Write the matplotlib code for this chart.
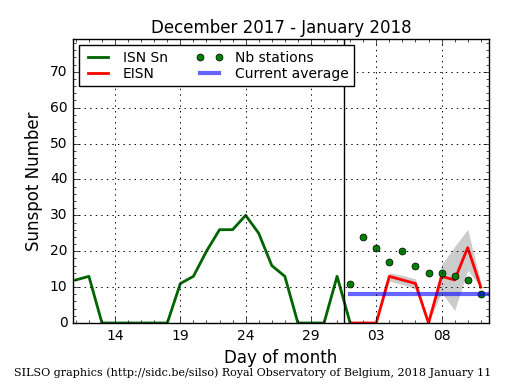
import numpy as np
import matplotlib
matplotlib.use('Agg')
import matplotlib.pyplot as plt
from matplotlib.ticker import MultipleLocator, FixedLocator

plt.style.use('classic')

# giorni: dicembre 11..31 -> 11..31, gennaio 1..11 -> 32..42
isn_days = np.arange(11, 33)
isn = [12, 13, 0, 0, 0, 0, 0, 0, 11, 13, 20, 26, 26, 30, 25, 16, 13, 0, 0, 0, 13, 0]

jan_days = np.arange(32, 43)
eisn = [0, 0, 0, 13, 12, 11, 0, 13, 12, 21, 10]
eisn_low = [0, 0, 0, 11.7, 10.7, 9.5, 0, 8.5, 3.5, 14.7, 9.9]
eisn_high = [0, 0, 0, 14, 13.3, 12.3, 0, 16.3, 21.3, 26.1, 11.3]
nb_stations = [11, 24, 21, 17, 20, 16, 14, 14, 13, 12, 8]
current_avg = 8.2

tick_pos = [14, 19, 24, 29, 34, 39]
tick_lab = ['14', '19', '24', '29', '03', '08']

fig = plt.figure(figsize=(5.15, 3.9), dpi=100, facecolor='white')
ax = fig.add_axes([0.1417, 0.1718, 0.8078, 0.727])

ax.fill_between(jan_days, eisn_low, eisn_high, color='gray', alpha=0.4, lw=0)
ax.plot(isn_days, isn, color='#006400', lw=2, label='ISN Sn')
ax.plot(jan_days, eisn, color='red', lw=2, label='EISN')
ax.plot(jan_days, nb_stations, 'o', color='green', mec='black', mew=0.5, ms=5,
        label='Nb stations')
ax.plot([32, 44], [current_avg, current_avg], color='blue', alpha=0.6, lw=3,
        label='Current average')
ax.axvline(31.5, color='black', lw=1)

ax.set_xlim(10.78, 42.63)
ax.set_ylim(0, 79)
ax.xaxis.set_major_locator(FixedLocator(tick_pos))
ax.set_xticklabels(tick_lab)
ax.xaxis.set_minor_locator(MultipleLocator(1))
ax.yaxis.set_major_locator(MultipleLocator(10))
ax.yaxis.set_minor_locator(MultipleLocator(2))
ax.tick_params(labelsize=10)
ax.grid(True, which='major', color='black', linestyle=':', lw=0.7)

ax.set_title('December 2017 - January 2018', fontsize=12)
ax.set_xlabel('Day of month', fontsize=12)
ax.set_ylabel('Sunspot Number', fontsize=12)

leg = ax.legend(loc='upper left', ncol=2, numpoints=2, fontsize=10,
                borderaxespad=0.4, handlelength=2.0, handletextpad=0.8,
                columnspacing=2.0, labelspacing=0.15, fancybox=False)
leg.get_frame().set_linewidth(1)

fig.text(0.49, 0.035, 'SILSO graphics (http://sidc.be/silso) Royal Observatory of Belgium, 2018 January 11',
         ha='center', fontsize=8, family='DejaVu Serif')

fig.savefig('out.png', dpi=100, facecolor='white')
